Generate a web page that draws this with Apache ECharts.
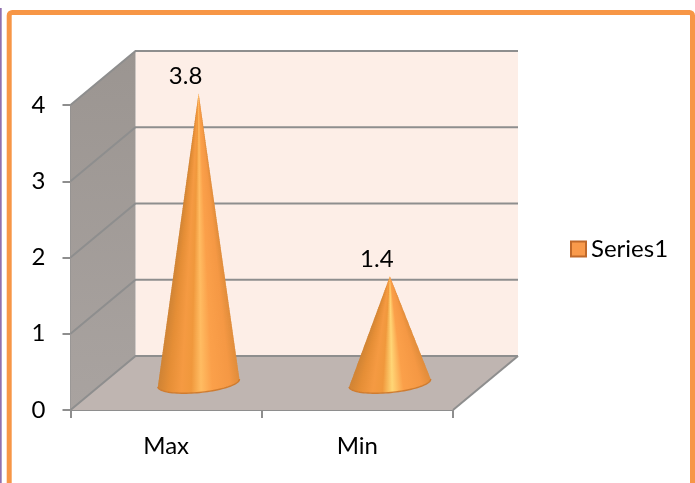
<!DOCTYPE html>
<html>
<head>
<meta charset="utf-8">
<style>html,body{margin:0;padding:0;background:#fff}#chart{width:695px;height:483px}</style>
<script src="https://cdn.jsdelivr.net/npm/echarts@6/dist/echarts.min.js"></script>
</head>
<body>
<div id="chart"></div>
<script>
const categories = ['Max', 'Min'];
const seriesName = 'Series1';
const seriesValues = [3.8, 1.4];
const valueTicks = [0, 1, 2, 3, 4];

// Oblique projection of the chart box and the shape of each cone.
const DEPTH_X = 65, DEPTH_Y = -54;
const BASE_RX = 41, BASE_RY = 9.5, BASE_TILT = -5.5 * Math.PI / 180;
const GRID_LINE = '#8E8E8E';
const highlights = ['#FFBC62', '#FFD676'];

function coneStops(highlight) {
  return [
    { offset: 0, color: '#CF8334' }, { offset: 0.12, color: '#E58E36' },
    { offset: 0.28, color: '#F59A42' }, { offset: 0.4, color: '#F0983C' },
    { offset: 0.52, color: highlight }, { offset: 0.66, color: '#FBA04A' },
    { offset: 0.88, color: '#F59844' }, { offset: 1, color: '#E08C3A' }
  ];
}

// Floor, back wall, side wall and the gridlines running round them.
function renderBox(params, api) {
  const cs = params.coordSys;
  const x0 = cs.x, x1 = cs.x + cs.width;
  const y0 = api.coord([0, valueTicks[0]])[1];
  const yTop = api.coord([0, valueTicks[valueTicks.length - 1]])[1];
  const poly = (points, fill) => ({ type: 'polygon', shape: { points }, style: { fill } });
  const children = [
    poly([[x0 + DEPTH_X, yTop + DEPTH_Y], [x1 + DEPTH_X, yTop + DEPTH_Y], [x1 + DEPTH_X, y0 + DEPTH_Y], [x0 + DEPTH_X, y0 + DEPTH_Y]], '#FDEEE7'),
    poly([[x0, yTop], [x0 + DEPTH_X, yTop + DEPTH_Y], [x0 + DEPTH_X, y0 + DEPTH_Y], [x0, y0]],
      new echarts.graphic.LinearGradient(0, 0, 0, 1, [{ offset: 0, color: '#9B9591' }, { offset: 1, color: '#A9A3A0' }])),
    poly([[x0, y0], [x1, y0], [x1 + DEPTH_X, y0 + DEPTH_Y], [x0 + DEPTH_X, y0 + DEPTH_Y]], '#BFB5B1')
  ];
  valueTicks.forEach(t => {
    const y = api.coord([0, t])[1];
    children.push({
      type: 'polyline',
      shape: { points: [[x0, y], [x0 + DEPTH_X, y + DEPTH_Y], [x1 + DEPTH_X, y + DEPTH_Y]] },
      style: { stroke: GRID_LINE, lineWidth: 2, fill: null }
    });
  });
  children.push({
    type: 'line',
    shape: { x1: x1, y1: y0, x2: x1 + DEPTH_X, y2: y0 + DEPTH_Y },
    style: { stroke: GRID_LINE, lineWidth: 2 }
  });
  return { type: 'group', children };
}

// One cone, built as stacked slices from the apex down to the base; each
// slice carries its own horizontal shading so the highlight narrows to the tip.
function renderCone(params, api) {
  const idx = api.value(0), val = api.value(1);
  const base = api.coord([idx, 0]);
  const top = api.coord([idx, val]);
  const cx = base[0] + DEPTH_X / 2, cy = base[1] + DEPTH_Y / 2;
  const apex = [top[0] + DEPTH_X / 2, top[1] + DEPTH_Y / 2];
  const cosT = Math.cos(BASE_TILT), sinT = Math.sin(BASE_TILT);
  const N = 48;

  // Near half of the cross-section at fraction s of the way down the cone.
  function arc(s) {
    const mx = apex[0] + (cx - apex[0]) * s, my = apex[1] + (cy - apex[1]) * s;
    const pts = [];
    for (let i = 0; i <= N; i++) {
      const a = Math.PI * i / N;
      const ex = s * BASE_RX * Math.cos(a), ey = s * BASE_RY * Math.sin(a);
      pts.push([mx + ex * cosT - ey * sinT, my + ex * sinT + ey * cosT]);
    }
    return pts;
  }

  const stops = coneStops(highlights[params.dataIndex]);
  const slices = Math.max(8, Math.round((cy - apex[1]) / 2));
  const children = [];
  for (let k = 0; k < slices; k++) {
    const lower = arc((k + 1) / slices);
    const upper = arc(Math.max(0, (k - 0.4) / slices)).reverse();
    const right = lower[0], left = lower[N];
    children.push({
      type: 'polygon',
      shape: { points: lower.concat(upper) },
      style: { fill: new echarts.graphic.LinearGradient(left[0], left[1], right[0], right[1], stops, true) }
    });
  }
  children.push({
    type: 'polyline',
    shape: { points: arc(1) },
    style: { stroke: '#CF7C30', lineWidth: 1.4, fill: null }
  });
  children.push({
    type: 'text',
    style: {
      text: String(val), x: apex[0] - 13, y: apex[1] - 17,
      align: 'center', verticalAlign: 'middle',
      fontFamily: 'Lato', fontSize: 24, fill: '#000'
    }
  });
  return { type: 'group', children };
}

const chart = echarts.init(document.getElementById('chart'), null, { renderer: 'canvas' });
chart.setOption({
  animation: false,
  backgroundColor: '#fff',
  graphic: [
    { type: 'rect', shape: { x: 0, y: 8, width: 1.7, height: 480 }, style: { fill: '#8F6FB0' }, silent: true },
    { type: 'rect', shape: { x: 9.2, y: 12.5, width: 683.3, height: 500, r: 3 }, style: { fill: null, stroke: '#F79646', lineWidth: 5 }, silent: true }
  ],
  grid: { left: 70.5, right: 242, top: 105, bottom: 73 },
  legend: {
    left: 565, top: 232, itemWidth: 15, itemHeight: 15, itemGap: 0,
    icon: 'rect', selectedMode: false,
    textStyle: { fontFamily: 'Lato', fontSize: 24, color: '#000' },
    data: [{ name: seriesName, itemStyle: { color: '#F99A4B', borderColor: '#C0692A', borderWidth: 2 } }]
  },
  xAxis: {
    type: 'category', data: categories, boundaryGap: true,
    axisLine: { show: true, lineStyle: { color: GRID_LINE, width: 2 } },
    axisTick: { show: true, length: 8, alignWithLabel: false, lineStyle: { color: GRID_LINE, width: 2 } },
    axisLabel: { margin: 24, fontFamily: 'Lato', fontSize: 24, color: '#000' },
    splitLine: { show: false }
  },
  yAxis: {
    type: 'value', min: 0, max: 4, interval: 1,
    axisLine: { show: true, lineStyle: { color: GRID_LINE, width: 2 } },
    axisTick: { show: true, length: 8, lineStyle: { color: GRID_LINE, width: 2 } },
    axisLabel: { margin: 25, fontFamily: 'Lato', fontSize: 24, color: '#000', formatter: v => valueTicks.includes(v) ? String(v) : '' },
    splitLine: { show: false }
  },
  series: [
    { type: 'custom', name: 'box', silent: true, z: 1, data: [[0, 0]], renderItem: renderBox, clip: false },
    {
      type: 'custom', name: seriesName, z: 2, clip: false,
      itemStyle: { color: '#F79646' },
      data: categories.map((c, i) => [i, seriesValues[i]]),
      encode: { x: 0, y: 1 },
      renderItem: renderCone
    }
  ]
});
</script>
</body>
</html>
